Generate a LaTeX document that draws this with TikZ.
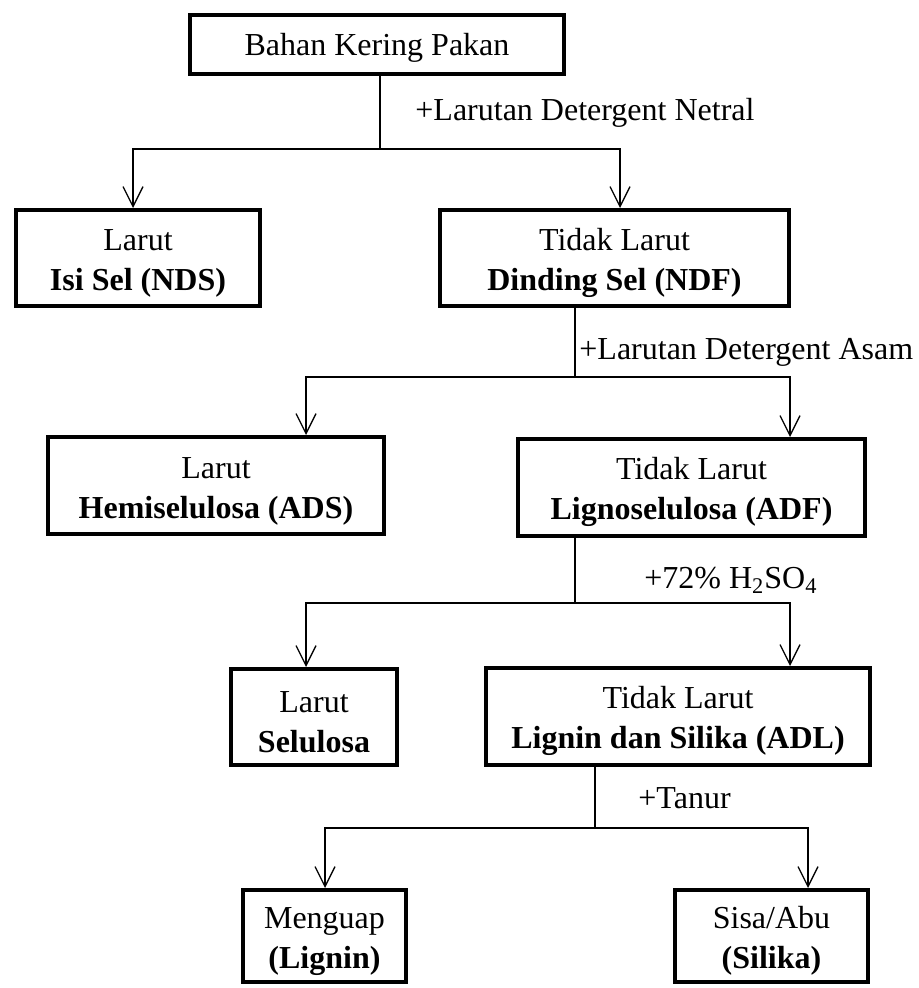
\documentclass[tikz,border=0pt]{standalone}
\usepackage{fontspec}
\setmainfont{Liberation Serif}
\usetikzlibrary{arrows.meta}
\newcommand{\tebal}{2pt}
\newcommand{\tipis}{0.65pt}
\newcommand{\atas}{\rule{0pt}{16pt}}

\begin{document}
\begin{tikzpicture}[x=0.5pt,y=-0.5pt]
            \tikzset{kotak/.style={draw, line width=\tebal, align=center, inner sep=0pt,
                font=\fontsize{16}{20}\selectfont},
              garis/.style={line width=\tipis},
              panah/.style={garis, -{Straight Barb[length=10pt,width=10pt]}},
              ket/.style={anchor=west, inner sep=0pt, font=\fontsize{16}{20}\selectfont}}
            \useasboundingbox (0,0) rectangle (918,988);

            \node[kotak, minimum width=187pt, minimum height=29.5pt] (bkp) at (377,44.5) {\rule{0pt}{14pt}Bahan Kering Pakan};

            \node[kotak, minimum width=122pt, minimum height=48pt] (nds) at (138,258) {\atas Larut\\\textbf{Isi Sel (NDS)}};
            \node[kotak, minimum width=174.5pt, minimum height=48pt] (ndf) at (614.5,258) {\atas Tidak Larut\\\textbf{Dinding Sel (NDF)}};

            \node[kotak, minimum width=168pt, minimum height=48.5pt] (ads) at (216,485.5) {\atas Larut\\\textbf{Hemiselulosa (ADS)}};
            \node[kotak, minimum width=173.5pt, minimum height=48.5pt] (adf) at (691.5,487.5) {\atas Tidak Larut\\\textbf{Lignoselulosa (ADF)}};

            \node[kotak, minimum width=83pt, minimum height=48pt] (sel) at (314,717) {\atas Larut\\\textbf{Selulosa}};
            \node[kotak, minimum width=192pt, minimum height=48.5pt] (adl) at (678,716.5) {\atas Tidak Larut\\\textbf{Lignin dan Silika (ADL)}};

            \node[kotak, minimum width=81.5pt, minimum height=46pt] (lig) at (324.5,936) {\atas Menguap\\\textbf{(Lignin)}};
            \node[kotak, minimum width=96.5pt, minimum height=46pt] (sil) at (771.5,936) {\atas Sisa/Abu\\\textbf{(Silika)}};

            % titik cabang
            \coordinate (s1) at (380,149);
            \coordinate (s1l) at (133,149);
            \coordinate (s1r) at (620,149);
            \coordinate (s2) at (575,377);
            \coordinate (s2l) at (306,377);
            \coordinate (s2r) at (790,377);
            \coordinate (s3) at (575,603);
            \coordinate (s3l) at (306,603);
            \coordinate (s3r) at (790,603);
            \coordinate (s4) at (595,828);
            \coordinate (s4l) at (325,828);
            \coordinate (s4r) at (808,828);

            \draw[garis] (s1 |- bkp.south) -- (s1);
            \draw[panah] (s1) -| (s1l |- nds.north);
            \draw[panah] (s1) -| (s1r |- ndf.north);
            \node[ket] (k1) at (415,113) {+Larutan Detergent Netral};

            \draw[garis] (s2 |- ndf.south) -- (s2);
            \draw[panah] (s2) -| (s2l |- ads.north);
            \draw[panah] (s2) -| (s2r |- adf.north);
            \node[ket] (k2) at (579,352) {+Larutan Detergent Asam};

            \draw[garis] (s3 |- adf.south) -- (s3);
            \draw[panah] (s3) -| (s3l |- sel.north);
            \draw[panah] (s3) -| (s3r |- adl.north);
            \node[ket] (k3) at (644,580) {+72\% H\textsubscript{2}SO\textsubscript{4}};

            \draw[garis] (s4 |- adl.south) -- (s4);
            \draw[panah] (s4) -| (s4l |- lig.north);
            \draw[panah] (s4) -| (s4r |- sil.north);
            \node[ket] (k4) at (638,798) {+Tanur};
\end{tikzpicture}
\end{document}
